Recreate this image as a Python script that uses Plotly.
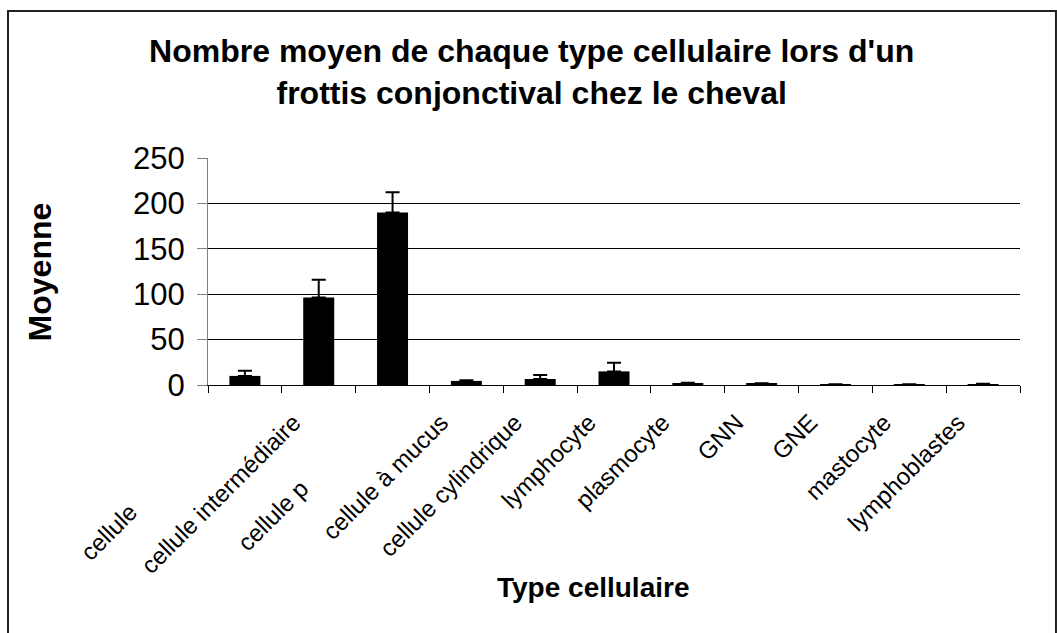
import plotly.graph_objects as go

# mean count per cell type and the upper error bar
categories = [
    "cellule", "cellule intermédiaire", "cellule p", "cellule à mucus",
    "cellule cylindrique", "lymphocyte", "plasmocyte", "GNN", "GNE",
    "mastocyte", "lymphoblastes",
]
means = [10, 96.5, 190, 4.5, 6.6, 15, 2, 1.5, 0.5, 0.5, 1]
errors = [5.8, 19.3, 22.4, 0.8, 4.4, 9.6, 0.5, 0.5, 0.2, 0.2, 0.3]

# two labels are cut short in the original picture: pad them so the visible
# part sits where it was drawn
NBSP = "\u00a0"
pad = {"cellule": 19, "cellule p": 14}
ticktext = [c + NBSP * pad.get(c, 0) for c in categories]

FONT = "Arial, Liberation Sans, sans-serif"

fig = go.Figure()
fig.add_trace(go.Bar(
    x=categories,
    y=means,
    marker=dict(color="black", line=dict(width=0)),
    error_y=dict(type="data", array=errors, arrayminus=[0] * len(errors),
                 symmetric=False, color="black", thickness=2, width=7),
    hovertemplate="<b>%{x}</b><br>Moyenne: %{y}<extra></extra>",
))

fig.update_layout(
    width=1057, height=633,
    paper_bgcolor="white", plot_bgcolor="white",
    margin=dict(l=208, r=37, t=158, b=248),
    bargap=0.58,
    showlegend=False,
    font=dict(family=FONT, color="black"),
    title=dict(
        text="<b>Nombre moyen de chaque type cellulaire lors d'un<br>"
             "frottis conjonctival chez le cheval</b>",
        x=0.503, xanchor="center", xref="container",
        y=0.902, yanchor="middle", yref="container",
        font=dict(size=32, family=FONT, color="black"),
    ),
    xaxis=dict(
        tickmode="array", tickvals=categories, ticktext=ticktext,
        tickangle=-45, tickfont=dict(size=24, family=FONT),
        ticklabelstandoff=13, ticklabelshift=-25,
        showline=True, linecolor="black", linewidth=1,
        ticks="outside", tickson="boundaries", ticklen=7, tickcolor="black",
        showgrid=False,
    ),
    yaxis=dict(
        range=[0, 250], dtick=50,
        tickfont=dict(size=31, family=FONT),
        ticklabelstandoff=6,
        showline=True, linecolor="#808080", linewidth=1,
        ticks="outside", ticklen=10, tickcolor="#808080",
        showgrid=True, gridcolor="black", gridwidth=1,
        zeroline=False,
    ),
    annotations=[
        dict(text="<b>Moyenne</b>", textangle=-90, showarrow=False,
             xref="paper", yref="paper", x=-0.207, y=0.5,
             xanchor="center", yanchor="middle",
             font=dict(size=32, family=FONT)),
        dict(text="<b>Type cellulaire</b>", showarrow=False,
             xref="paper", yref="paper", x=0.474, y=-0.89,
             xanchor="center", yanchor="middle",
             font=dict(size=28, family=FONT)),
    ],
    shapes=[
        dict(type="rect", xref="paper", yref="paper",
             x0=-0.2463, x1=1.0443, y0=-1.2, y1=1.6476,
             line=dict(color="#222222", width=2), layer="below"),
    ],
)

# the page's default 8px body margin would shift the whole chart
fig.write_html("out.html", config={"displayModeBar": False},
               post_script="document.body.style.margin='0';")
